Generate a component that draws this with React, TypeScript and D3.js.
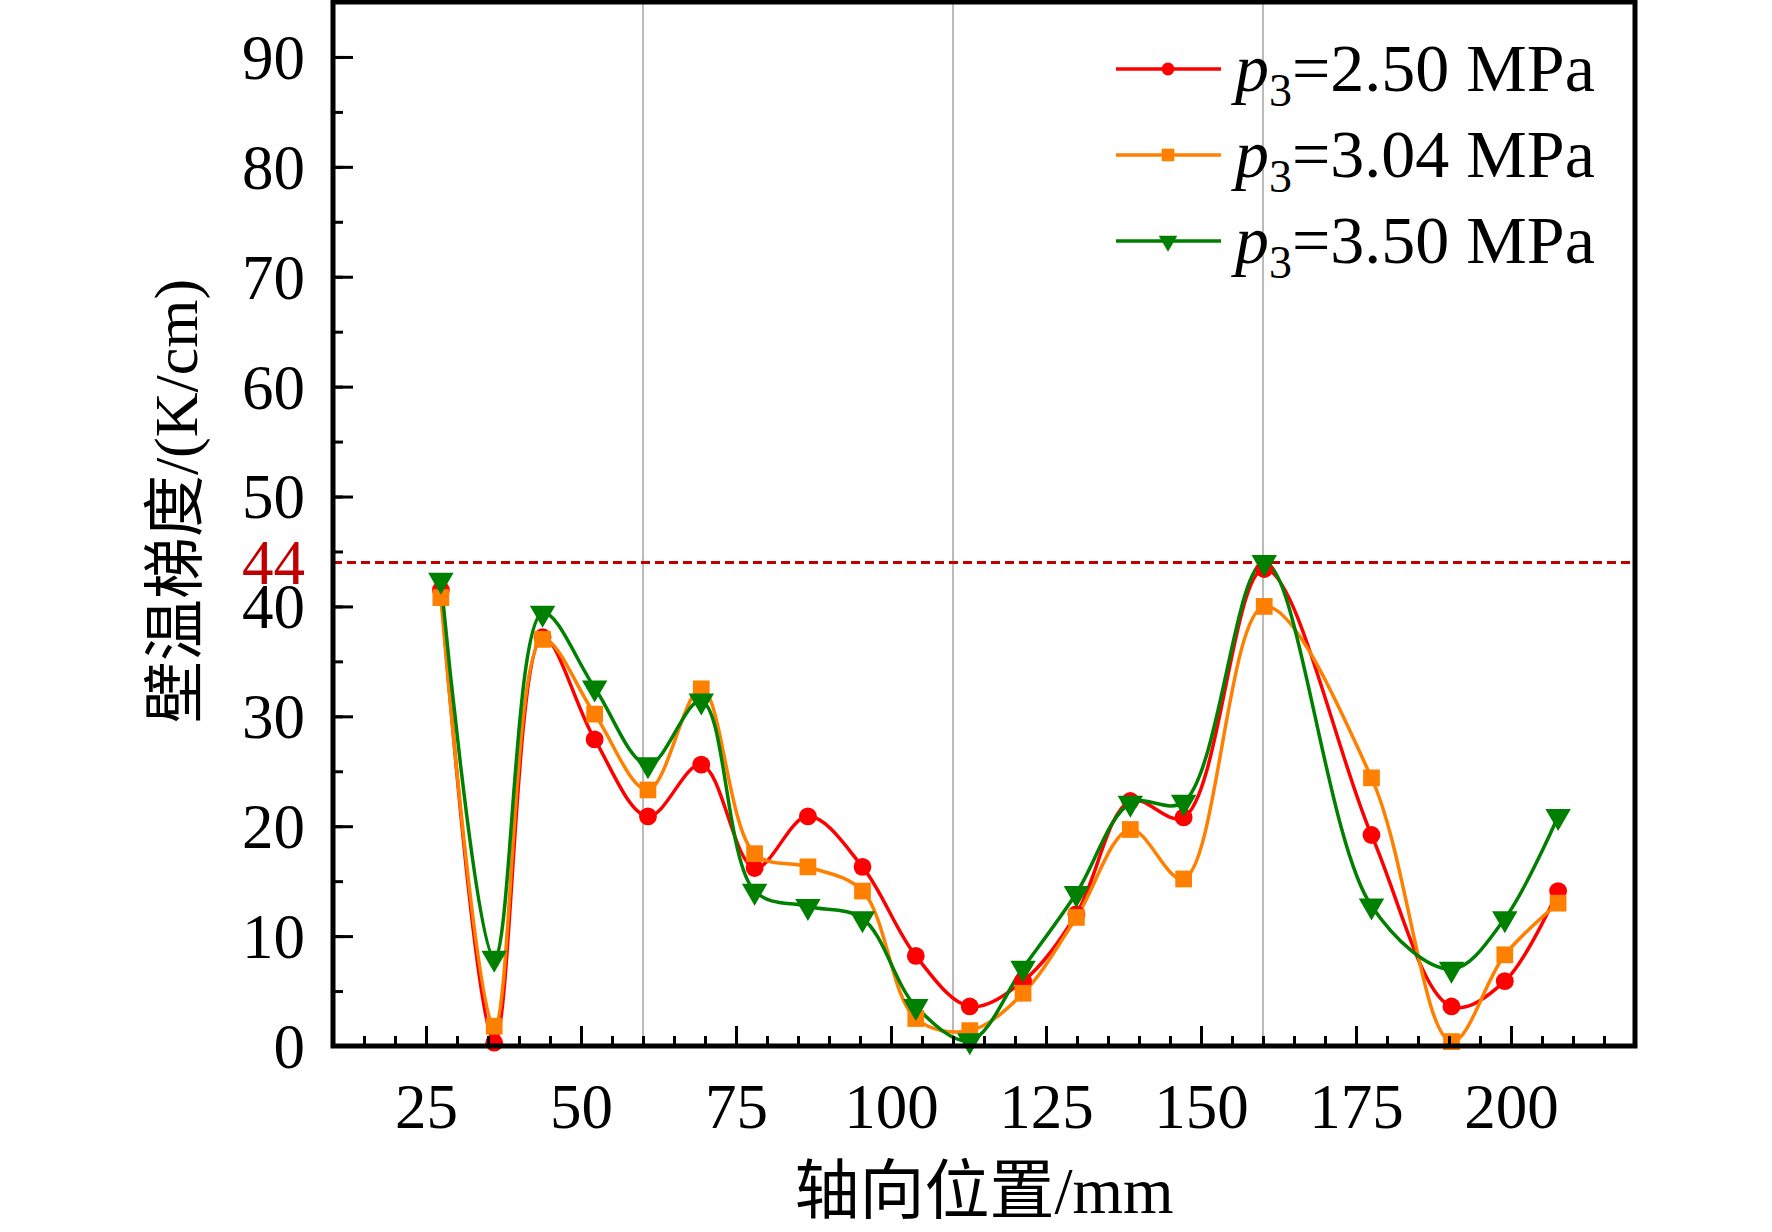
import React, { useEffect, useRef } from 'react';
import * as d3 from 'd3';

// axial positions (mm)
const positions = [27.4, 36.0, 43.8, 52.2, 60.8, 69.4, 78.0, 86.6, 95.4, 104.0, 112.7, 121.3, 129.9, 138.6, 147.2, 160.2, 177.5, 190.4, 199.0, 207.6];

// wall temperature gradient (K/cm)
const p250 = [41.5, 0.3, 37.2, 27.9, 20.9, 25.6, 16.2, 20.9, 16.3, 8.2, 3.6, 5.9, 12.0, 22.3, 20.8, 43.4, 19.2, 3.6, 5.9, 14.1];
const p304 = [40.8, 1.8, 37.0, 30.2, 23.3, 32.5, 17.5, 16.3, 14.1, 2.5, 1.4, 4.8, 11.7, 19.7, 15.2, 40.0, 24.4, 0.4, 8.3, 13.0];
const p350 = [42.4, 8.0, 39.4, 32.6, 25.6, 31.4, 14.1, 12.7, 11.6, 3.6, 0.5, 7.1, 13.9, 22.1, 22.2, 44.0, 12.75, 7.0, 11.6, 20.9];

const seriesNames = ['2.50', '3.04', '3.50'];
const seriesColors = ['#ff0000', '#ff8000', '#008000'];

const xMajorTicks = [25, 50, 75, 100, 125, 150, 175, 200];
const yMajorTicks = [0, 10, 20, 30, 40, 50, 60, 70, 80, 90];
const refLines = [60, 110, 160];
const limitValue = 44;

const W = 1772;
const H = 1232;
const serif = "'Liberation Serif', 'Times New Roman', serif";
const cjk = "'Liberation Serif', 'Noto Sans CJK SC', serif";

const App: React.FC = () => {
  const svgRef = useRef<SVGSVGElement | null>(null);

  useEffect(() => {
    const svg = d3.select(svgRef.current);
    svg.selectAll('*').remove();

    const left = 333, right = 1635, top = 2, bottom = 1046;
    const x = d3.scaleLinear().domain([10, 220]).range([left, right]);
    const y = d3.scaleLinear().domain([0, 95]).range([bottom, top]);

    svg.append('defs').append('clipPath').attr('id', 'plot-clip')
      .append('rect')
      .attr('x', left).attr('y', top)
      .attr('width', right - left).attr('height', bottom - top);

    // vertical reference lines
    svg.append('g').selectAll('line').data(refLines).join('line')
      .attr('x1', d => x(d)).attr('x2', d => x(d))
      .attr('y1', top).attr('y2', bottom)
      .attr('stroke', '#8c8c8c').attr('stroke-width', 1.2);

    // 44 K/cm limit
    svg.append('line')
      .attr('x1', left).attr('x2', right)
      .attr('y1', y(limitValue)).attr('y2', y(limitValue))
      .attr('stroke', '#c00000').attr('stroke-width', 3)
      .attr('stroke-dasharray', '9,5');

    const all = [p250, p304, p350];
    const line = d3.line<number>()
      .x((d, i) => x(positions[i]))
      .y(d => y(d))
      .curve(d3.curveCatmullRom.alpha(0.5));

    all.forEach((vals, k) => {
      svg.append('path')
        .datum(vals)
        .attr('clip-path', 'url(#plot-clip)')
        .attr('fill', 'none')
        .attr('stroke', seriesColors[k])
        .attr('stroke-width', 3.5)
        .attr('d', line);
    });

    const symbols = [d3.symbolCircle, d3.symbolSquare, d3.symbolTriangle];
    const sizes = [250, 280, 280];
    all.forEach((vals, k) => {
      svg.append('g').selectAll('path').data(vals).join('path')
        .attr('d', d3.symbol().type(symbols[k]).size(sizes[k])())
        .attr('fill', seriesColors[k])
        .attr('transform', (d, i) =>
          `translate(${x(positions[i])},${y(d)})` + (k === 2 ? ' rotate(180)' : ''));
    });

    // axes
    const gx = svg.append('g').attr('transform', `translate(0,${bottom})`);
    gx.call(d3.axisBottom(x).tickValues(d3.range(15, 220, 5)).tickSize(-10).tickFormat(() => ''));
    const gxMajor = svg.append('g').attr('transform', `translate(0,${bottom})`);
    gxMajor.call(d3.axisBottom(x).tickValues(xMajorTicks).tickSize(-20).tickPadding(37).tickFormat(d3.format('d')));

    const gy = svg.append('g').attr('transform', `translate(${left},0)`);
    gy.call(d3.axisLeft(y).tickValues(d3.range(5, 95, 5)).tickSize(-10).tickFormat(() => ''));
    const gyMajor = svg.append('g').attr('transform', `translate(${left},0)`);
    gyMajor.call(d3.axisLeft(y).tickValues(yMajorTicks).tickSize(-20).tickPadding(28).tickFormat(d3.format('d')));

    [gx, gxMajor, gy, gyMajor].forEach(g => {
      g.select('.domain').remove();
      g.selectAll('line').attr('stroke', '#000').attr('stroke-width', 3);
      g.selectAll('text')
        .attr('fill', '#000')
        .style('font-family', serif)
        .style('font-size', '63px');
    });
    gyMajor.selectAll('text').attr('dy', '0.34em');

    svg.append('text')
      .attr('x', left - 28).attr('y', y(limitValue)).attr('dy', '0.34em')
      .attr('text-anchor', 'end')
      .attr('fill', '#c00000')
      .style('font-family', serif).style('font-size', '63px')
      .text(String(limitValue));

    // frame
    svg.append('rect')
      .attr('x', left).attr('y', top)
      .attr('width', right - left).attr('height', bottom - top)
      .attr('fill', 'none').attr('stroke', '#000').attr('stroke-width', 5);

    // axis titles
    svg.append('text')
      .attr('x', (left + right) / 2).attr('y', 1213)
      .attr('text-anchor', 'middle')
      .style('font-family', cjk).style('font-size', '65px')
      .text('轴向位置/mm');

    svg.append('text')
      .attr('transform', 'translate(197,501) rotate(-90)')
      .attr('text-anchor', 'middle')
      .style('font-family', cjk).style('font-size', '62px')
      .text('壁温梯度/(K/cm)');

    // legend
    const legendSizes = [130, 160, 150];
    seriesNames.forEach((name, k) => {
      const base = 91 + k * 86;
      const cy = base - 22;
      svg.append('line')
        .attr('x1', 1116).attr('x2', 1221)
        .attr('y1', cy).attr('y2', cy)
        .attr('stroke', seriesColors[k]).attr('stroke-width', 3.5);
      svg.append('path')
        .attr('d', d3.symbol().type(symbols[k]).size(legendSizes[k])())
        .attr('fill', seriesColors[k])
        .attr('transform', `translate(1168,${cy})` + (k === 2 ? ' rotate(180)' : ''));
      const t = svg.append('text')
        .attr('x', 1235).attr('y', base)
        .style('font-family', serif).style('font-size', '68px');
      t.append('tspan').style('font-style', 'italic').text('p');
      t.append('tspan').attr('dy', 15).style('font-size', '46px').text('3');
      t.append('tspan').attr('dy', -15).text(`=${name} MPa`);
    });
  }, []);

  return (
    <svg
      ref={svgRef}
      width={W}
      height={H}
      style={{ position: 'absolute', left: 0, top: 0, background: '#fff' }}
    />
  );
};

export default App;
